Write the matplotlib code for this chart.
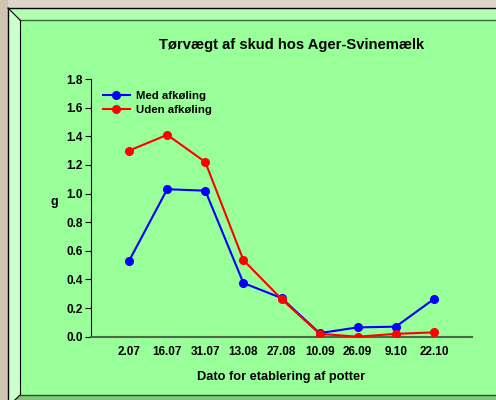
import matplotlib
matplotlib.use("Agg")
import matplotlib.pyplot as plt
from matplotlib.patches import Polygon
from matplotlib.lines import Line2D

categories = ["2.07", "16.07", "31.07", "13.08", "27.08", "10.09", "26.09", "9.10", "22.10"]
med_afkoling = [0.53, 1.03, 1.02, 0.375, 0.27, 0.025, 0.065, 0.07, 0.263]
uden_afkoling = [1.30, 1.41, 1.22, 0.535, 0.263, 0.02, 0.0, 0.02, 0.03]
yticks = [0.0, 0.2, 0.4, 0.6, 0.8, 1.0, 1.2, 1.4, 1.6, 1.8]

plt.rcParams['font.family'] = ['Liberation Sans', 'DejaVu Sans']
plt.rcParams['font.weight'] = 'bold'

W, H = 496, 400
fig = plt.figure(figsize=(W / 100, H / 100), dpi=100)
fig.patch.set_facecolor('#d5cfc2')

def P(x, y):
    return (x / W, 1 - y / H)

def poly(pts, fc, ec='none', lw=0, z=0):
    fig.add_artist(Polygon([P(*p) for p in pts], closed=True, facecolor=fc,
                           edgecolor=ec, linewidth=lw, transform=fig.transFigure, zorder=z))

def line(pts, color='black', lw=0.8, z=2):
    xs = [P(*p)[0] for p in pts]
    ys = [P(*p)[1] for p in pts]
    fig.add_artist(Line2D(xs, ys, color=color, linewidth=lw, transform=fig.transFigure, zorder=z))

# background texture approximation
poly([(0, 0), (W, 0), (W, 8), (0, 8)], '#dcd6ca')
poly([(0, 0), (8, 0), (8, H), (0, H)], '#cfc4b2')

# bevel frame
poly([(8, 8), (W + 5, 8), (W + 5, 20), (20, 20)], '#b0ffb0')       # top bevel
poly([(8, 8), (20, 20), (20, 395), (8, H + 5)], '#ccffcc')          # left bevel
poly([(20, 395), (W + 5, 395), (W + 5, H + 5), (8, H + 5)], '#80c880')  # bottom bevel
poly([(20, 20), (W + 5, 20), (W + 5, 395), (20, 395)], '#99ff99')   # panel

line([(8, 8), (W + 5, 8)], 'black', 1.0)
line([(8, 8), (8, H + 5)], 'black', 1.0)
line([(8, 8), (20, 20)], 'black', 0.8)
line([(20, 20), (W + 5, 20)], '#3a6a3a', 1.0)
line([(20, 20), (20, 395)], 'black', 0.8)
line([(20, 395), (W + 5, 395)], '#2f4f2f', 1.0)
line([(20, 395), (14, H + 1)], 'black', 0.8)

# axes
ax = fig.add_axes([91 / W, 1 - 336.7 / H, 381 / W, 257.7 / H])
ax.set_facecolor('none')
x = list(range(1, len(categories) + 1))
ax.plot(x, med_afkoling, color='#0000ff', lw=1.5, marker='o', ms=5.5, label='Med afkøling', zorder=3)
ax.plot(x, uden_afkoling, color='#ff0000', lw=1.5, marker='o', ms=5.5, label='Uden afkøling', zorder=4)

ax.set_xlim(0, 10)
ax.set_ylim(0, 1.8)
ax.set_yticks(yticks)
ax.set_yticklabels([f"{v:.1f}" for v in yticks], fontsize=8.5, fontweight='bold')
ax.set_xticks(x)
ax.set_xticklabels(categories, fontsize=8.5, fontweight='bold')
ax.tick_params(axis='x', length=0, pad=7)
ax.tick_params(axis='y', length=4, width=0.8, pad=2, direction='out')

for s in ['top', 'right']:
    ax.spines[s].set_visible(False)
ax.spines['left'].set_color('black')
ax.spines['left'].set_linewidth(0.8)
ax.spines['bottom'].set_color('#4a6a4a')
ax.spines['bottom'].set_linewidth(1.5)

ax.set_xlabel('Dato for etablering af potter', fontsize=9.2, fontweight='bold', labelpad=9)
ax.set_ylabel('g', fontsize=9, fontweight='bold', rotation=0, va='center', ha='center')
ax.yaxis.set_label_coords(-0.095, (336.7 - 202) / 257.7)

fig.text(292 / W, 1 - 45 / H, 'Tørvægt af skud hos Ager-Svinemælk', ha='center', va='center',
         fontsize=10.6, fontweight='bold')

leg = ax.legend(loc='upper left', bbox_to_anchor=(0.01, 0.985), frameon=False,
                prop={'size': 8.2, 'weight': 'bold'}, handlelength=2.4, handletextpad=0.5,
                labelspacing=0.35, borderaxespad=0.3)

fig.savefig('out.png', dpi=100, facecolor=fig.get_facecolor())
